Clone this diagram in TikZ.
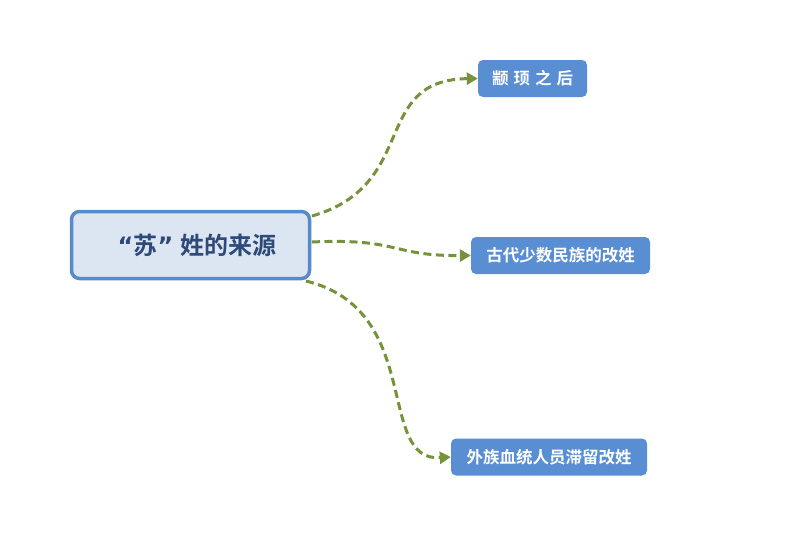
\documentclass[tikz,border=0pt]{standalone}
\usepackage{fontspec}
\newfontfamily\cjk{Noto Sans CJK SC}[BoldFont={Noto Sans CJK SC Bold}]
\newfontfamily\qfont{DejaVu Sans}
\usetikzlibrary{arrows.meta}
\definecolor{mainfill}{HTML}{DCE6F2}
\definecolor{mainborder}{HTML}{5A8AC6}
\definecolor{maintext}{HTML}{2E4A7A}
\definecolor{boxfill}{HTML}{5A8ED2}
\definecolor{linkcol}{HTML}{76923C}
\begin{document}
\begin{tikzpicture}[x=1pt,y=-1pt,
  mainbox/.style={draw=mainborder,line width=3.5pt,fill=mainfill,rounded corners=8pt,minimum width=238pt,minimum height=67pt,inner sep=0pt},
  maintxt/.style={font=\cjk\bfseries\fontsize{24}{28}\selectfont,text=maintext,inner sep=0pt},
  leaf/.style={fill=boxfill,rounded corners=5pt,minimum height=37pt,inner sep=0pt,font=\cjk\bfseries\fontsize{16.5}{20}\selectfont,text=white},
  link/.style={draw=linkcol,line width=3pt,dash pattern=on 8pt off 4.5pt,-{Triangle[length=11pt,width=12pt]}}]
\useasboundingbox (0,0) rectangle (794,544);
\fill[white] (0,0) rectangle (794,544);
\node[mainbox] (m) at (190.5,245) {};
\node[maintxt] (mt) at (197,245) {{\qfont\bfseries “}苏{\qfont\bfseries ”}\hspace{7pt}姓的来源};
\node[leaf,minimum width=109pt] (a) at (532.5,78.5) {颛\hspace{5pt}顼\hspace{5pt}之\hspace{5pt}后};
\node[leaf,minimum width=179pt] (b) at (560.5,255.5) {古代少数民族的改姓};
\node[leaf,minimum width=196pt] (c) at (549,457) {外族血统人员滞留改姓};
\coordinate (s1) at (312,216);
\coordinate (s2) at (312,242);
\coordinate (s3) at (306,281);
\draw[link] (s1) .. controls (420,185) and (370,80) .. (a.west);
\draw[link] (s2) .. controls (400,238) and (390,256) .. (b.west);
\draw[link] (s3) .. controls (425,310) and (375,462) .. (c.west);
\end{tikzpicture}
\end{document}
